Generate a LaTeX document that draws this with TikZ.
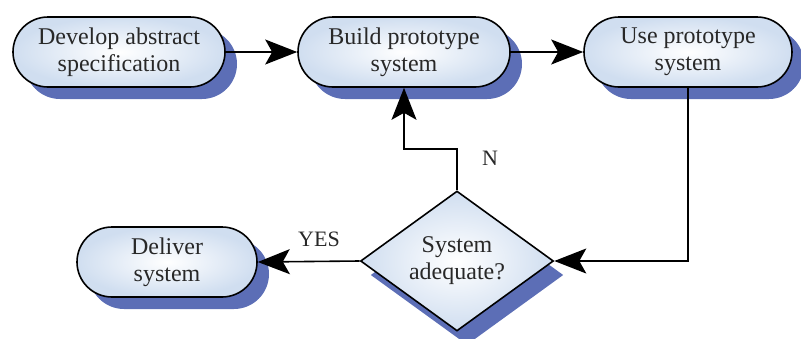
\documentclass[tikz,border=0pt]{standalone}
\usepackage{fontspec}
\setmainfont{Liberation Serif}
\usetikzlibrary{arrows.meta,shapes.geometric,shadows}
\definecolor{shadowblue}{RGB}{92,110,182}
\definecolor{boxblue}{RGB}{208,222,240}
\definecolor{txt}{RGB}{40,40,40}
\tikzset{
  flowbox/.style={draw=black, line width=1.6pt, rectangle, rounded corners=35pt,
    minimum height=70pt, inner sep=0pt, align=center, text=txt,
    shading=radial, inner color=white, outer color=boxblue,
    font=\fontsize{24}{27}\selectfont,
    drop shadow={shadow xshift=12pt, shadow yshift=-12pt, fill=shadowblue, opacity=1}},
  decbox/.style={draw=black, line width=1.6pt, diamond, aspect=1.38,
    minimum width=193pt, minimum height=140pt, inner sep=0pt, align=center, text=txt,
    shading=radial, inner color=white, outer color=boxblue,
    font=\fontsize{24}{27}\selectfont,
    drop shadow={shadow xshift=10pt, shadow yshift=-14pt, fill=shadowblue, opacity=1}},
  arr/.style={line width=1.6pt, -{Stealth[length=32pt,width=25pt,inset=7pt]}},
  lbl/.style={text=txt, font=\fontsize{22}{26}\selectfont}
}
\begin{document}
\begin{tikzpicture}[x=1pt,y=-1pt]
\useasboundingbox (0,0) rectangle (801,338);
\node[flowbox, minimum width=212pt] (n1) at (119,52) {Develop abstract\\specification};
\node[flowbox, minimum width=212pt] (n2) at (404,52) {Build prototype\\system};
\node[flowbox, minimum width=208pt] (n3) at (688,52) {Use prototype\\system};
\node[decbox] (dec) at (457,261) {System\\adequate?};
\node[flowbox, minimum width=180pt] (del) at (167,262) {Deliver\\system};
\coordinate (nbend) at (457,149);
\draw[arr] (n1.east) -- (n2.west);
\draw[arr] (n2.east) -- (n3.west);
\draw[arr] (n3.south) |- (dec.east);
\draw[arr] (dec.north) -- (nbend) -| (n2.south);
\draw[arr] (dec.west) -- (del.east);
\node[lbl] (nl) at (490,158) {N};
\node[lbl] (yl) at (319,239) {YES};
\end{tikzpicture}
\end{document}
